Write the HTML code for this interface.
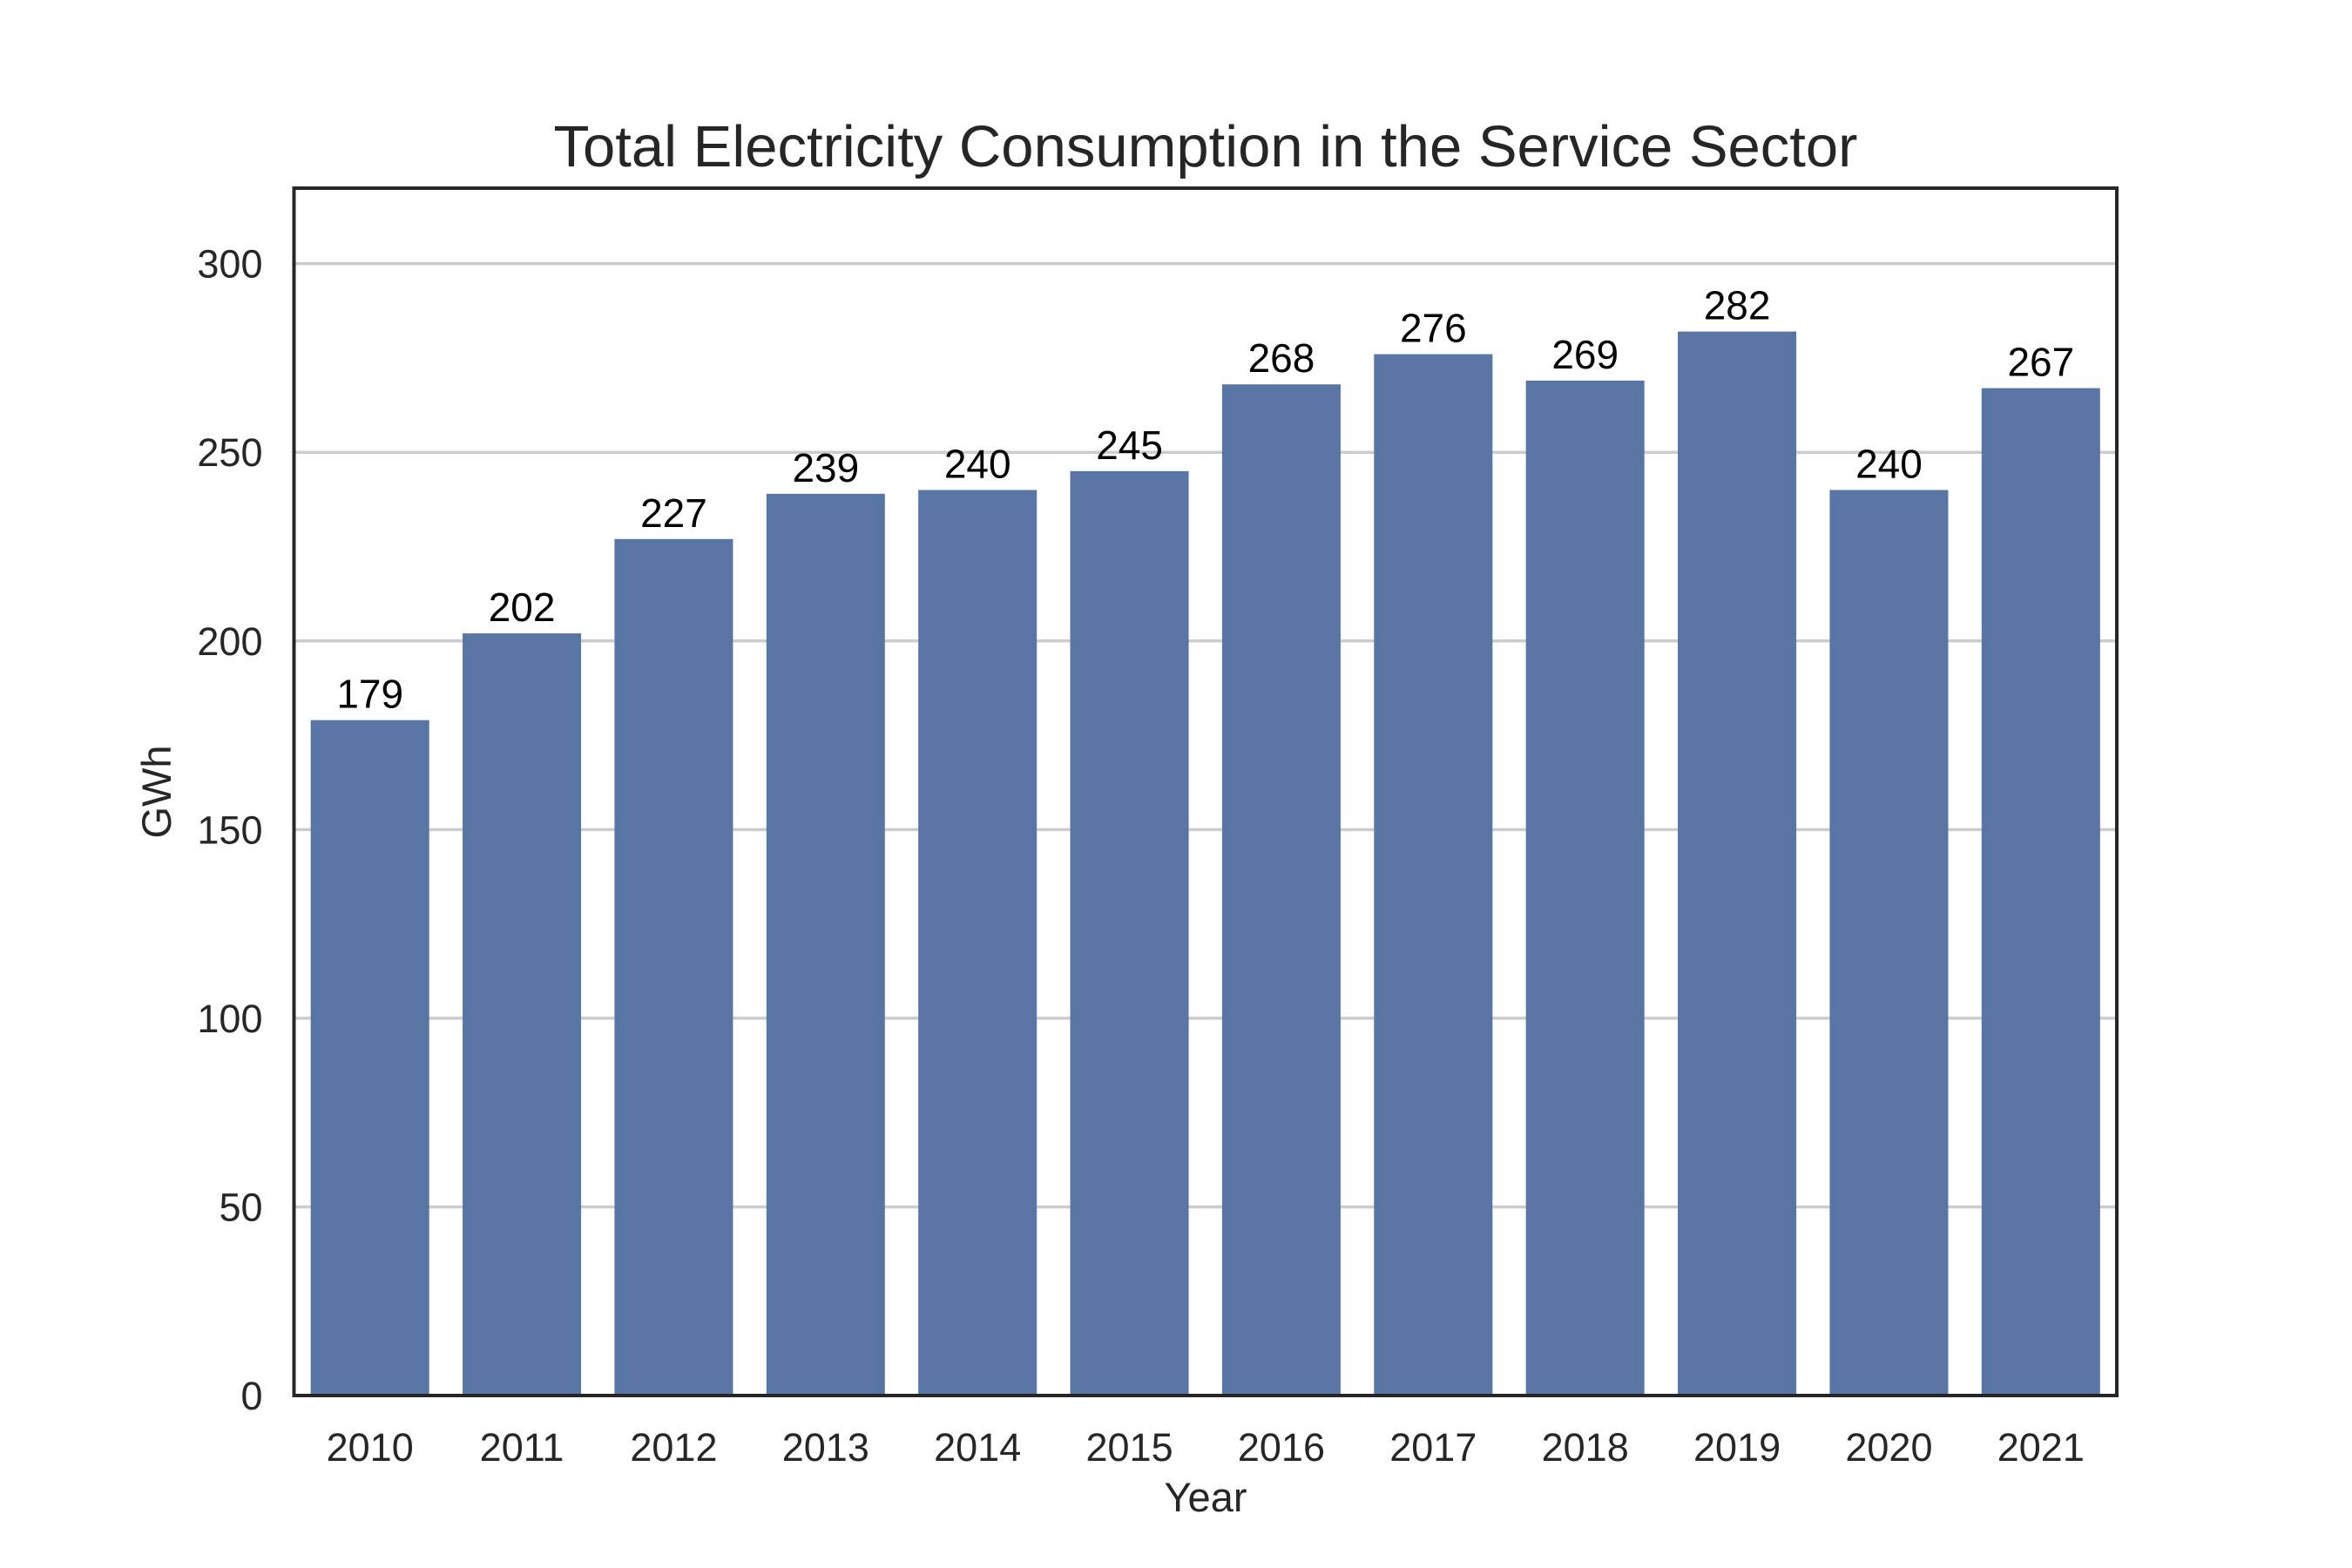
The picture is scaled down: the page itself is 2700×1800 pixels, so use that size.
<!DOCTYPE html>
<html><head><meta charset="utf-8"><style>
html,body{margin:0;padding:0;background:#fff;}
svg{display:block;font-family:"Liberation Sans",Arial,sans-serif;}
</style></head><body>
<svg id="chart" width="2700" height="1800" viewBox="0 0 2700 1800" xmlns="http://www.w3.org/2000/svg">
<rect width="2700" height="1800" fill="#fff"/>
<g id="grid"></g>
<g id="bars"></g>
<g id="labels"></g>
<g id="ticks"></g>
<rect x="337.5" y="216" width="2092.5" height="1386" fill="none" stroke="#262626" stroke-width="4"/>
<text x="1384" y="191" font-size="67" fill="#262626" text-anchor="middle">Total Electricity Consumption in the Service Sector</text>
<text x="1384" y="1735" font-size="47" fill="#262626" text-anchor="middle">Year</text>
<text transform="translate(196,909) rotate(-90)" font-size="47" fill="#262626" text-anchor="middle">GWh</text>
</svg>
<script>
const categories = ["2010","2011","2012","2013","2014","2015","2016","2017","2018","2019","2020","2021"];
const values = [179,202,227,239,240,245,268,276,269,282,240,267];
const yTicks = [0,50,100,150,200,250,300];
const L=337.5,R=2430,T=216,B=1602,YMAX=320;
const NS="http://www.w3.org/2000/svg";
const slot=(R-L)/categories.length;
function xc(i){return L+slot*(i+0.5);}
function y(v){return B-(v/YMAX)*(B-T);}
function mk(tag,attrs,parent,txt){const e=document.createElementNS(NS,tag);for(const k in attrs)e.setAttribute(k,attrs[k]);if(txt!==undefined)e.textContent=txt;document.getElementById(parent).appendChild(e);return e;}
yTicks.forEach(t=>{
  const g=mk('line',{x1:L,x2:R,y1:y(t),y2:y(t),stroke:'#cccccc','stroke-width':3.5},'grid');
  
  
  const tl=mk('text',{x:L-36,y:y(t)+16,'font-size':45,fill:'#262626','text-anchor':'end'},'ticks',String(t));
  
  
});
categories.forEach((c,i)=>{
  const w=slot*0.78;
  const b=mk('rect',{x:xc(i)-w/2,y:y(values[i]),width:w,height:B-y(values[i]),fill:'#5975a4'},'bars');
  
  
  const lb=mk('text',{x:xc(i),y:y(values[i])-14,'font-size':46,fill:'#000','text-anchor':'middle'},'labels',String(values[i]));
  
  
  const tk=mk('text',{x:xc(i),y:1697-20,'font-size':45,fill:'#262626','text-anchor':'middle'},'ticks',c);
  
  
});
</script>
</body></html>
